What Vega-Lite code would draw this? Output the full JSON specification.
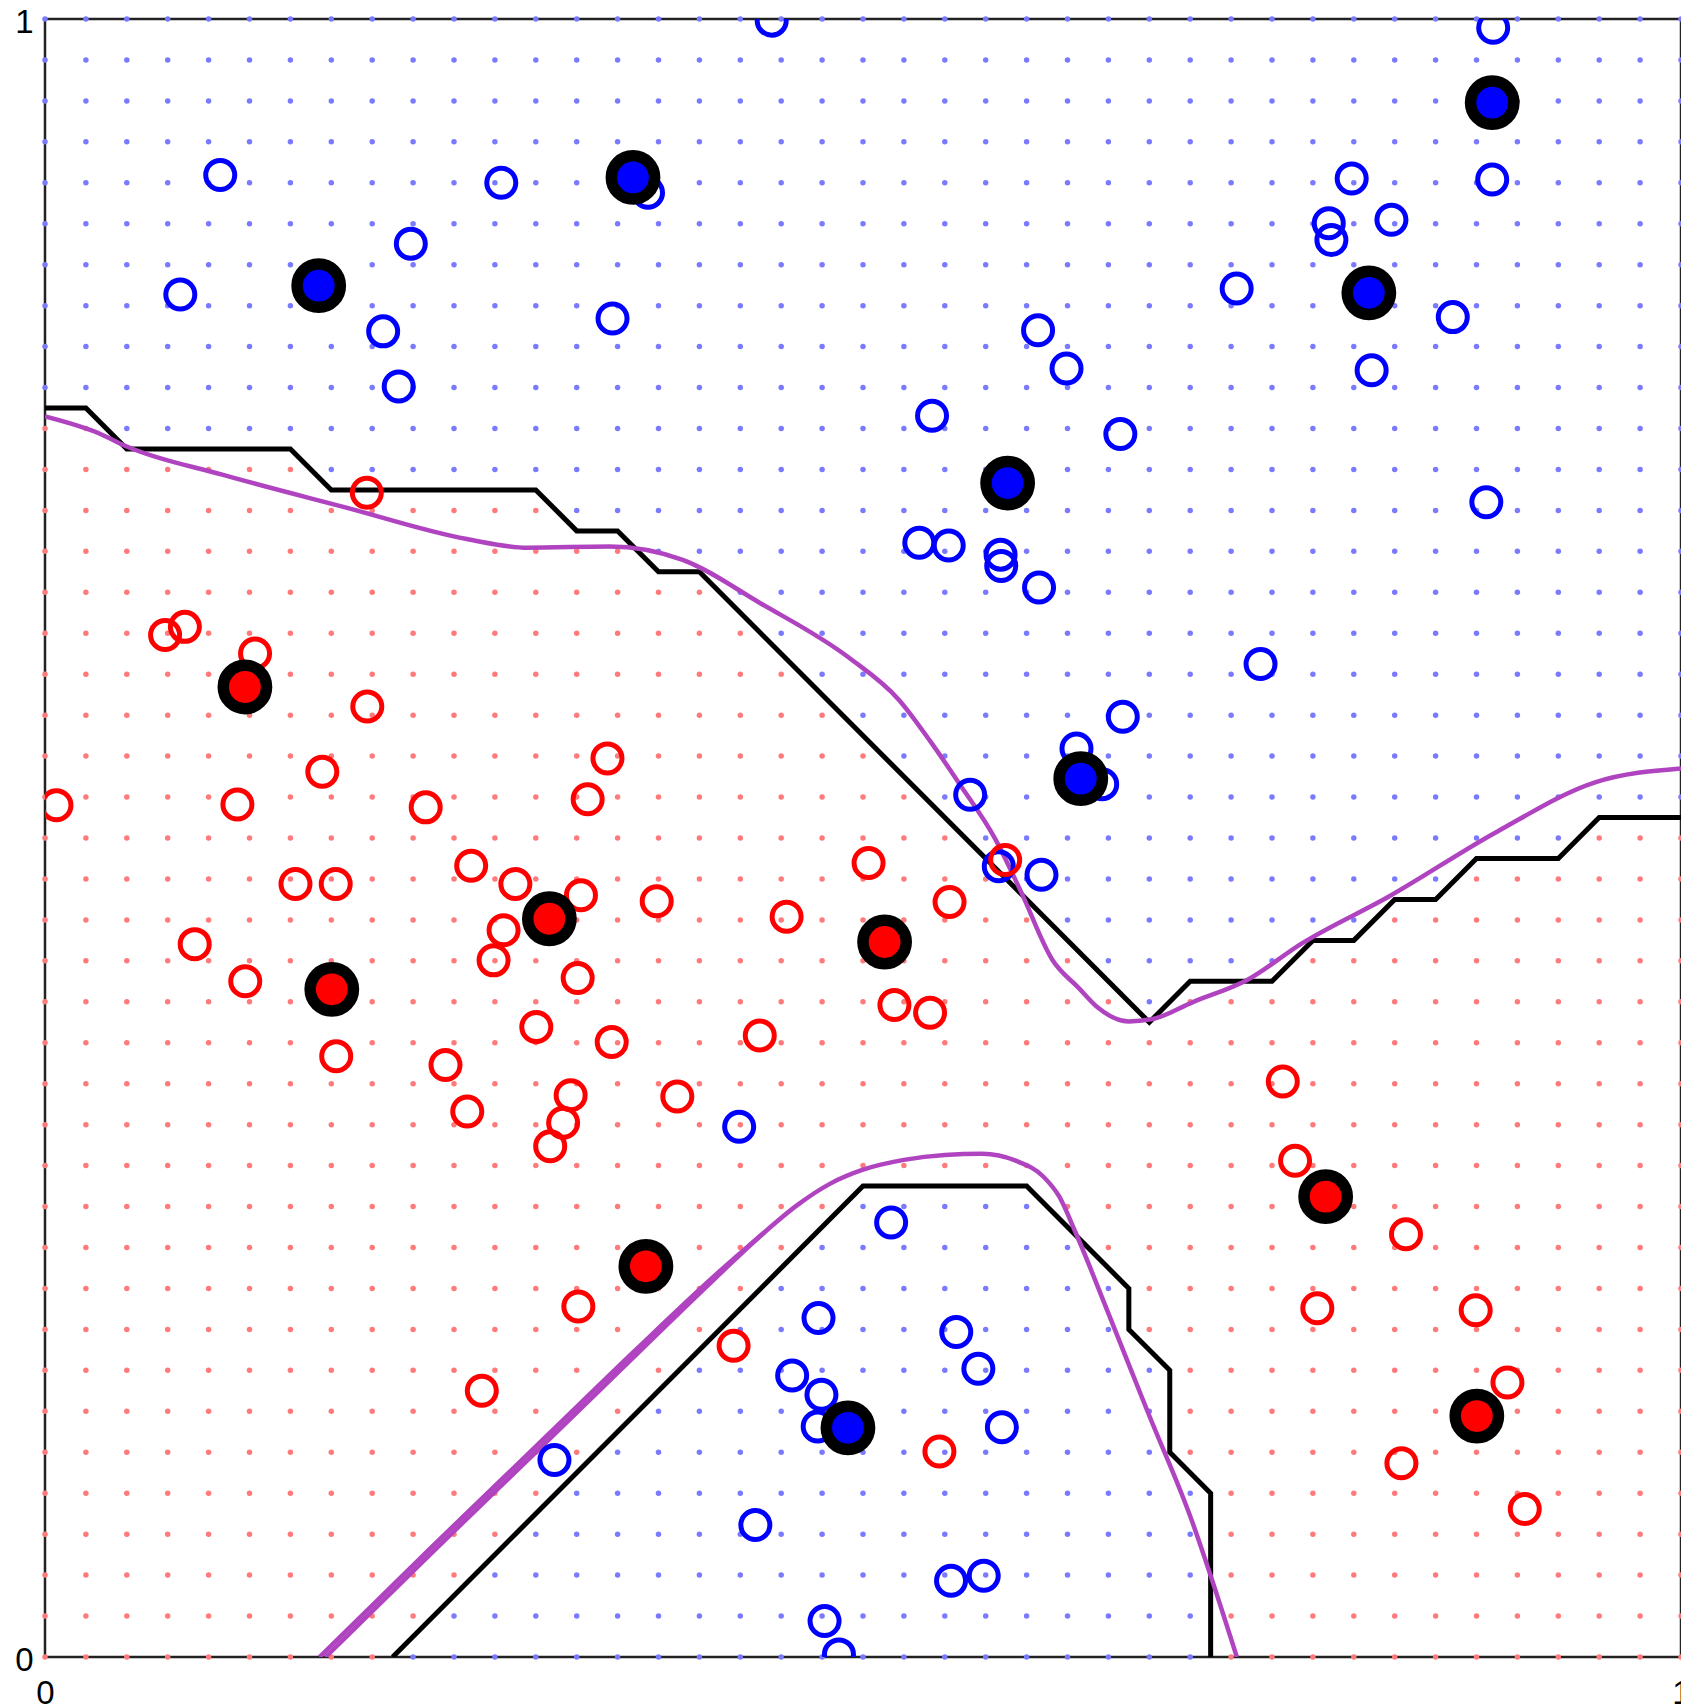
{
  "$schema": "https://vega.github.io/schema/vega-lite/v6.json",
  "width": 1636,
  "height": 1638,
  "autosize": {"type": "none"},
  "padding": {"left": 45, "top": 19, "right": 0, "bottom": 47},
  "background": "white",
  "config": {
    "view": {"stroke": "#222", "strokeWidth": 2.5},
    "axis": {
      "domain": false,
      "ticks": false,
      "grid": false,
      "labelFont": "Liberation Sans",
      "labelFontSize": 33,
      "labelColor": "#000"
    }
  },
  "datasets": {
    "grid": [
      {"i": [0, 1], "c": "r", "j": [0,1,2,3,4,5,6,7,8,9,10,11,12,13,14,15,16,17,18,19,20,21,22,23,24,25,26,27,28,29,30]},
      {"i": [0, 1], "c": "b", "j": [31,32,33,34,35,36,37,38,39,40]},
      {"i": [2, 3, 4, 5, 6], "c": "r", "j": [0,1,2,3,4,5,6,7,8,9,10,11,12,13,14,15,16,17,18,19,20,21,22,23,24,25,26,27,28,29]},
      {"i": [2, 3, 4, 5, 6], "c": "b", "j": [30,31,32,33,34,35,36,37,38,39,40]},
      {"i": [7, 8], "c": "r", "j": [0,1,2,3,4,5,6,7,8,9,10,11,12,13,14,15,16,17,18,19,20,21,22,23,24,25,26,27,28]},
      {"i": [7, 8], "c": "b", "j": [29,30,31,32,33,34,35,36,37,38,39,40]},
      {"i": [9], "c": "r", "j": [1,2,3,4,5,6,7,8,9,10,11,12,13,14,15,16,17,18,19,20,21,22,23,24,25,26,27,28]},
      {"i": [9], "c": "b", "j": [0,29,30,31,32,33,34,35,36,37,38,39,40]},
      {"i": [10], "c": "r", "j": [2,3,4,5,6,7,8,9,10,11,12,13,14,15,16,17,18,19,20,21,22,23,24,25,26,27,28]},
      {"i": [10], "c": "b", "j": [0,1,29,30,31,32,33,34,35,36,37,38,39,40]},
      {"i": [11], "c": "r", "j": [3,4,5,6,7,8,9,10,11,12,13,14,15,16,17,18,19,20,21,22,23,24,25,26,27,28]},
      {"i": [11], "c": "b", "j": [0,1,2,29,30,31,32,33,34,35,36,37,38,39,40]},
      {"i": [12], "c": "r", "j": [4,5,6,7,8,9,10,11,12,13,14,15,16,17,18,19,20,21,22,23,24,25,26,27,28]},
      {"i": [12], "c": "b", "j": [0,1,2,3,29,30,31,32,33,34,35,36,37,38,39,40]},
      {"i": [13], "c": "r", "j": [5,6,7,8,9,10,11,12,13,14,15,16,17,18,19,20,21,22,23,24,25,26,27]},
      {"i": [13], "c": "b", "j": [0,1,2,3,4,28,29,30,31,32,33,34,35,36,37,38,39,40]},
      {"i": [14], "c": "r", "j": [6,7,8,9,10,11,12,13,14,15,16,17,18,19,20,21,22,23,24,25,26,27]},
      {"i": [14], "c": "b", "j": [0,1,2,3,4,5,28,29,30,31,32,33,34,35,36,37,38,39,40]},
      {"i": [15], "c": "r", "j": [7,8,9,10,11,12,13,14,15,16,17,18,19,20,21,22,23,24,25,26]},
      {"i": [15], "c": "b", "j": [0,1,2,3,4,5,6,27,28,29,30,31,32,33,34,35,36,37,38,39,40]},
      {"i": [16], "c": "r", "j": [8,9,10,11,12,13,14,15,16,17,18,19,20,21,22,23,24,25,26]},
      {"i": [16], "c": "b", "j": [0,1,2,3,4,5,6,7,27,28,29,30,31,32,33,34,35,36,37,38,39,40]},
      {"i": [17], "c": "r", "j": [9,10,11,12,13,14,15,16,17,18,19,20,21,22,23,24,25]},
      {"i": [17], "c": "b", "j": [0,1,2,3,4,5,6,7,8,26,27,28,29,30,31,32,33,34,35,36,37,38,39,40]},
      {"i": [18], "c": "r", "j": [10,11,12,13,14,15,16,17,18,19,20,21,22,23,24]},
      {"i": [18], "c": "b", "j": [0,1,2,3,4,5,6,7,8,9,25,26,27,28,29,30,31,32,33,34,35,36,37,38,39,40]},
      {"i": [19], "c": "r", "j": [11,12,13,14,15,16,17,18,19,20,21,22,23]},
      {"i": [19], "c": "b", "j": [0,1,2,3,4,5,6,7,8,9,10,24,25,26,27,28,29,30,31,32,33,34,35,36,37,38,39,40]},
      {"i": [20], "c": "r", "j": [12,13,14,15,16,17,18,19,20,21,22]},
      {"i": [20], "c": "b", "j": [0,1,2,3,4,5,6,7,8,9,10,11,23,24,25,26,27,28,29,30,31,32,33,34,35,36,37,38,39,40]},
      {"i": [21], "c": "r", "j": [12,13,14,15,16,17,18,19,20,21]},
      {"i": [21], "c": "b", "j": [0,1,2,3,4,5,6,7,8,9,10,11,22,23,24,25,26,27,28,29,30,31,32,33,34,35,36,37,38,39,40]},
      {"i": [22], "c": "r", "j": [12,13,14,15,16,17,18,19,20]},
      {"i": [22], "c": "b", "j": [0,1,2,3,4,5,6,7,8,9,10,11,21,22,23,24,25,26,27,28,29,30,31,32,33,34,35,36,37,38,39,40]},
      {"i": [23], "c": "r", "j": [12,13,14,15,16,17,18,19]},
      {"i": [23], "c": "b", "j": [0,1,2,3,4,5,6,7,8,9,10,11,20,21,22,23,24,25,26,27,28,29,30,31,32,33,34,35,36,37,38,39,40]},
      {"i": [24], "c": "r", "j": [12,13,14,15,16,17,18]},
      {"i": [24], "c": "b", "j": [0,1,2,3,4,5,6,7,8,9,10,11,19,20,21,22,23,24,25,26,27,28,29,30,31,32,33,34,35,36,37,38,39,40]},
      {"i": [25], "c": "r", "j": [11,12,13,14,15,16,17]},
      {"i": [25], "c": "b", "j": [0,1,2,3,4,5,6,7,8,9,10,18,19,20,21,22,23,24,25,26,27,28,29,30,31,32,33,34,35,36,37,38,39,40]},
      {"i": [26], "c": "r", "j": [10,11,12,13,14,15,16]},
      {"i": [26], "c": "b", "j": [0,1,2,3,4,5,6,7,8,9,17,18,19,20,21,22,23,24,25,26,27,28,29,30,31,32,33,34,35,36,37,38,39,40]},
      {"i": [27], "c": "r", "j": [8,9,10,11,12,13,14,15]},
      {"i": [27], "c": "b", "j": [0,1,2,3,4,5,6,7,16,17,18,19,20,21,22,23,24,25,26,27,28,29,30,31,32,33,34,35,36,37,38,39,40]},
      {"i": [28], "c": "r", "j": [5,6,7,8,9,10,11,12,13,14,15,16]},
      {"i": [28], "c": "b", "j": [0,1,2,3,4,17,18,19,20,21,22,23,24,25,26,27,28,29,30,31,32,33,34,35,36,37,38,39,40]},
      {"i": [29, 30], "c": "r", "j": [0,1,2,3,4,5,6,7,8,9,10,11,12,13,14,15,16]},
      {"i": [29, 30], "c": "b", "j": [17,18,19,20,21,22,23,24,25,26,27,28,29,30,31,32,33,34,35,36,37,38,39,40]},
      {"i": [31, 32], "c": "r", "j": [0,1,2,3,4,5,6,7,8,9,10,11,12,13,14,15,16,17]},
      {"i": [31, 32], "c": "b", "j": [18,19,20,21,22,23,24,25,26,27,28,29,30,31,32,33,34,35,36,37,38,39,40]},
      {"i": [33, 34], "c": "r", "j": [0,1,2,3,4,5,6,7,8,9,10,11,12,13,14,15,16,17,18]},
      {"i": [33, 34], "c": "b", "j": [19,20,21,22,23,24,25,26,27,28,29,30,31,32,33,34,35,36,37,38,39,40]},
      {"i": [35, 36, 37], "c": "r", "j": [0,1,2,3,4,5,6,7,8,9,10,11,12,13,14,15,16,17,18,19]},
      {"i": [35, 36, 37], "c": "b", "j": [20,21,22,23,24,25,26,27,28,29,30,31,32,33,34,35,36,37,38,39,40]},
      {"i": [38, 39, 40], "c": "r", "j": [0,1,2,3,4,5,6,7,8,9,10,11,12,13,14,15,16,17,18,19,20]},
      {"i": [38, 39, 40], "c": "b", "j": [21,22,23,24,25,26,27,28,29,30,31,32,33,34,35,36,37,38,39,40]}
    ],
    "knn": [
      {"seg": "upper", "k": 0, "x": 0, "y": 0.7625},
      {"seg": "upper", "k": 1, "x": 0.025, "y": 0.7625},
      {"seg": "upper", "k": 2, "x": 0.05, "y": 0.7375},
      {"seg": "upper", "k": 3, "x": 0.15, "y": 0.7375},
      {"seg": "upper", "k": 4, "x": 0.175, "y": 0.7125},
      {"seg": "upper", "k": 5, "x": 0.3, "y": 0.7125},
      {"seg": "upper", "k": 6, "x": 0.325, "y": 0.6875},
      {"seg": "upper", "k": 7, "x": 0.35, "y": 0.6875},
      {"seg": "upper", "k": 8, "x": 0.375, "y": 0.6625},
      {"seg": "upper", "k": 9, "x": 0.4, "y": 0.6625},
      {"seg": "upper", "k": 10, "x": 0.675, "y": 0.3875},
      {"seg": "upper", "k": 11, "x": 0.7, "y": 0.4125},
      {"seg": "upper", "k": 12, "x": 0.75, "y": 0.4125},
      {"seg": "upper", "k": 13, "x": 0.775, "y": 0.4375},
      {"seg": "upper", "k": 14, "x": 0.8, "y": 0.4375},
      {"seg": "upper", "k": 15, "x": 0.825, "y": 0.4625},
      {"seg": "upper", "k": 16, "x": 0.85, "y": 0.4625},
      {"seg": "upper", "k": 17, "x": 0.875, "y": 0.4875},
      {"seg": "upper", "k": 18, "x": 0.925, "y": 0.4875},
      {"seg": "upper", "k": 19, "x": 0.95, "y": 0.5125},
      {"seg": "upper", "k": 20, "x": 1, "y": 0.5125},
      {"seg": "lower", "k": 0, "x": 0.2125, "y": 0},
      {"seg": "lower", "k": 1, "x": 0.5, "y": 0.2875},
      {"seg": "lower", "k": 2, "x": 0.6, "y": 0.2875},
      {"seg": "lower", "k": 3, "x": 0.6625, "y": 0.225},
      {"seg": "lower", "k": 4, "x": 0.6625, "y": 0.2},
      {"seg": "lower", "k": 5, "x": 0.6875, "y": 0.175},
      {"seg": "lower", "k": 6, "x": 0.6875, "y": 0.125},
      {"seg": "lower", "k": 7, "x": 0.7125, "y": 0.1},
      {"seg": "lower", "k": 8, "x": 0.7125, "y": 0}
    ],
    "bayes": [
      {"seg": "upper", "k": 0, "x": 0, "y": 0.7573},
      {"seg": "upper", "k": 1, "x": 0.0335, "y": 0.7468},
      {"seg": "upper", "k": 2, "x": 0.05, "y": 0.739},
      {"seg": "upper", "k": 3, "x": 0.1083, "y": 0.7218},
      {"seg": "upper", "k": 4, "x": 0.183, "y": 0.702},
      {"seg": "upper", "k": 5, "x": 0.2578, "y": 0.6825},
      {"seg": "upper", "k": 6, "x": 0.295, "y": 0.6772},
      {"seg": "upper", "k": 7, "x": 0.345, "y": 0.6780},
      {"seg": "upper", "k": 8, "x": 0.3898, "y": 0.6698},
      {"seg": "upper", "k": 9, "x": 0.437, "y": 0.6435},
      {"seg": "upper", "k": 10, "x": 0.4915, "y": 0.61},
      {"seg": "upper", "k": 11, "x": 0.522, "y": 0.5843},
      {"seg": "upper", "k": 12, "x": 0.5415, "y": 0.5585},
      {"seg": "upper", "k": 13, "x": 0.559, "y": 0.533},
      {"seg": "upper", "k": 14, "x": 0.5808, "y": 0.4995},
      {"seg": "upper", "k": 15, "x": 0.596, "y": 0.4685},
      {"seg": "upper", "k": 16, "x": 0.6158, "y": 0.4255},
      {"seg": "upper", "k": 17, "x": 0.6318, "y": 0.4085},
      {"seg": "upper", "k": 18, "x": 0.6435, "y": 0.3965},
      {"seg": "upper", "k": 19, "x": 0.6623, "y": 0.388},
      {"seg": "upper", "k": 20, "x": 0.6763, "y": 0.3893},
      {"seg": "upper", "k": 21, "x": 0.702, "y": 0.4},
      {"seg": "upper", "k": 22, "x": 0.7348, "y": 0.4133},
      {"seg": "upper", "k": 23, "x": 0.7685, "y": 0.4358},
      {"seg": "upper", "k": 24, "x": 0.8215, "y": 0.4643},
      {"seg": "upper", "k": 25, "x": 0.8878, "y": 0.504},
      {"seg": "upper", "k": 26, "x": 0.9475, "y": 0.534},
      {"seg": "upper", "k": 27, "x": 1, "y": 0.5425},
      {"seg": "lower", "k": 0, "x": 0.1715, "y": 0},
      {"seg": "lower", "k": 1, "x": 0.2378, "y": 0.0650},
      {"seg": "lower", "k": 2, "x": 0.3083, "y": 0.1330},
      {"seg": "lower", "k": 3, "x": 0.3633, "y": 0.1865},
      {"seg": "lower", "k": 4, "x": 0.4100, "y": 0.2315},
      {"seg": "lower", "k": 5, "x": 0.4400, "y": 0.2595},
      {"seg": "lower", "k": 6, "x": 0.4600, "y": 0.2760},
      {"seg": "lower", "k": 7, "x": 0.4800, "y": 0.2890},
      {"seg": "lower", "k": 8, "x": 0.5000, "y": 0.2975},
      {"seg": "lower", "k": 9, "x": 0.5250, "y": 0.3035},
      {"seg": "lower", "k": 10, "x": 0.5500, "y": 0.3065},
      {"seg": "lower", "k": 11, "x": 0.5728, "y": 0.3072},
      {"seg": "lower", "k": 12, "x": 0.5933, "y": 0.3030},
      {"seg": "lower", "k": 13, "x": 0.6100, "y": 0.2935},
      {"seg": "lower", "k": 14, "x": 0.6200, "y": 0.2810},
      {"seg": "lower", "k": 15, "x": 0.6300, "y": 0.2590},
      {"seg": "lower", "k": 16, "x": 0.6500, "y": 0.2098},
      {"seg": "lower", "k": 17, "x": 0.6745, "y": 0.1485},
      {"seg": "lower", "k": 18, "x": 0.6995, "y": 0.0873},
      {"seg": "lower", "k": 19, "x": 0.7285, "y": 0},
      {"seg": "lower2", "k": 0, "x": 0.1678, "y": 0},
      {"seg": "lower2", "k": 1, "x": 0.2360, "y": 0.0668},
      {"seg": "lower2", "k": 2, "x": 0.3065, "y": 0.1348},
      {"seg": "lower2", "k": 3, "x": 0.3617, "y": 0.1881},
      {"seg": "lower2", "k": 4, "x": 0.4090, "y": 0.2325},
      {"seg": "lower2", "k": 5, "x": 0.4400, "y": 0.2595}
    ],
    "train": [
      {"x": 0.1071, "y": 0.9048, "cls": "blue"},
      {"x": 0.2789, "y": 0.9000, "cls": "blue"},
      {"x": 0.3686, "y": 0.8939, "cls": "blue"},
      {"x": 0.2236, "y": 0.8628, "cls": "blue"},
      {"x": 0.0827, "y": 0.8318, "cls": "blue"},
      {"x": 0.2067, "y": 0.8093, "cls": "blue"},
      {"x": 0.3469, "y": 0.8172, "cls": "blue"},
      {"x": 0.2162, "y": 0.7756, "cls": "blue"},
      {"x": 0.4442, "y": 0.9990, "cls": "blue"},
      {"x": 0.8852, "y": 0.9946, "cls": "blue"},
      {"x": 0.8846, "y": 0.9020, "cls": "blue"},
      {"x": 0.7987, "y": 0.9026, "cls": "blue"},
      {"x": 0.7847, "y": 0.8753, "cls": "blue"},
      {"x": 0.7863, "y": 0.8651, "cls": "blue"},
      {"x": 0.8230, "y": 0.8775, "cls": "blue"},
      {"x": 0.7284, "y": 0.8355, "cls": "blue"},
      {"x": 0.8605, "y": 0.8180, "cls": "blue"},
      {"x": 0.8109, "y": 0.7855, "cls": "blue"},
      {"x": 0.6573, "y": 0.7467, "cls": "blue"},
      {"x": 0.8810, "y": 0.7050, "cls": "blue"},
      {"x": 0.6070, "y": 0.8100, "cls": "blue"},
      {"x": 0.6244, "y": 0.7866, "cls": "blue"},
      {"x": 0.5422, "y": 0.7578, "cls": "blue"},
      {"x": 0.5344, "y": 0.6802, "cls": "blue"},
      {"x": 0.5524, "y": 0.6786, "cls": "blue"},
      {"x": 0.5841, "y": 0.6730, "cls": "blue"},
      {"x": 0.5845, "y": 0.6660, "cls": "blue"},
      {"x": 0.6076, "y": 0.6529, "cls": "blue"},
      {"x": 0.7430, "y": 0.6062, "cls": "blue"},
      {"x": 0.6588, "y": 0.5740, "cls": "blue"},
      {"x": 0.6305, "y": 0.5547, "cls": "blue"},
      {"x": 0.6462, "y": 0.5328, "cls": "blue"},
      {"x": 0.5655, "y": 0.5264, "cls": "blue"},
      {"x": 0.5830, "y": 0.4828, "cls": "blue"},
      {"x": 0.6091, "y": 0.4776, "cls": "blue"},
      {"x": 0.5172, "y": 0.2653, "cls": "blue"},
      {"x": 0.4728, "y": 0.2070, "cls": "blue"},
      {"x": 0.5570, "y": 0.1984, "cls": "blue"},
      {"x": 0.4567, "y": 0.1719, "cls": "blue"},
      {"x": 0.4746, "y": 0.1601, "cls": "blue"},
      {"x": 0.4723, "y": 0.1407, "cls": "blue"},
      {"x": 0.5705, "y": 0.1760, "cls": "blue"},
      {"x": 0.5849, "y": 0.1403, "cls": "blue"},
      {"x": 0.4342, "y": 0.0806, "cls": "blue"},
      {"x": 0.5538, "y": 0.0465, "cls": "blue"},
      {"x": 0.5738, "y": 0.0496, "cls": "blue"},
      {"x": 0.4765, "y": 0.0220, "cls": "blue"},
      {"x": 0.4853, "y": 0.0016, "cls": "blue"},
      {"x": 0.3114, "y": 0.1203, "cls": "blue"},
      {"x": 0.4243, "y": 0.3237, "cls": "blue"},
      {"x": 0.0734, "y": 0.6239, "cls": "red"},
      {"x": 0.0855, "y": 0.6289, "cls": "red"},
      {"x": 0.1284, "y": 0.6126, "cls": "red"},
      {"x": 0.1970, "y": 0.5803, "cls": "red"},
      {"x": 0.1695, "y": 0.5404, "cls": "red"},
      {"x": 0.3438, "y": 0.5486, "cls": "red"},
      {"x": 0.1176, "y": 0.5204, "cls": "red"},
      {"x": 0.2327, "y": 0.5187, "cls": "red"},
      {"x": 0.3317, "y": 0.5237, "cls": "red"},
      {"x": 0.2605, "y": 0.4831, "cls": "red"},
      {"x": 0.1531, "y": 0.4719, "cls": "red"},
      {"x": 0.1777, "y": 0.4719, "cls": "red"},
      {"x": 0.2875, "y": 0.4719, "cls": "red"},
      {"x": 0.3276, "y": 0.4651, "cls": "red"},
      {"x": 0.3739, "y": 0.4614, "cls": "red"},
      {"x": 0.2803, "y": 0.4437, "cls": "red"},
      {"x": 0.0915, "y": 0.4352, "cls": "red"},
      {"x": 0.2742, "y": 0.4253, "cls": "red"},
      {"x": 0.1224, "y": 0.4125, "cls": "red"},
      {"x": 0.3256, "y": 0.4145, "cls": "red"},
      {"x": 0.3003, "y": 0.3846, "cls": "red"},
      {"x": 0.3464, "y": 0.3754, "cls": "red"},
      {"x": 0.1780, "y": 0.3667, "cls": "red"},
      {"x": 0.2448, "y": 0.3614, "cls": "red"},
      {"x": 0.3213, "y": 0.3430, "cls": "red"},
      {"x": 0.3865, "y": 0.3422, "cls": "red"},
      {"x": 0.2581, "y": 0.3330, "cls": "red"},
      {"x": 0.3167, "y": 0.3261, "cls": "red"},
      {"x": 0.3088, "y": 0.3118, "cls": "red"},
      {"x": 0.1967, "y": 0.7108, "cls": "red"},
      {"x": 0.0070, "y": 0.5200, "cls": "red"},
      {"x": 0.5034, "y": 0.4848, "cls": "red"},
      {"x": 0.5529, "y": 0.4609, "cls": "red"},
      {"x": 0.4533, "y": 0.4519, "cls": "red"},
      {"x": 0.5869, "y": 0.4866, "cls": "red"},
      {"x": 0.5192, "y": 0.3980, "cls": "red"},
      {"x": 0.5410, "y": 0.3933, "cls": "red"},
      {"x": 0.4369, "y": 0.3794, "cls": "red"},
      {"x": 0.3260, "y": 0.2140, "cls": "red"},
      {"x": 0.2670, "y": 0.1625, "cls": "red"},
      {"x": 0.4209, "y": 0.1900, "cls": "red"},
      {"x": 0.5467, "y": 0.1255, "cls": "red"},
      {"x": 0.7566, "y": 0.3513, "cls": "red"},
      {"x": 0.7641, "y": 0.3030, "cls": "red"},
      {"x": 0.8319, "y": 0.2581, "cls": "red"},
      {"x": 0.7777, "y": 0.2129, "cls": "red"},
      {"x": 0.8745, "y": 0.2117, "cls": "red"},
      {"x": 0.8939, "y": 0.1676, "cls": "red"},
      {"x": 0.8291, "y": 0.1183, "cls": "red"},
      {"x": 0.9045, "y": 0.0903, "cls": "red"}
    ],
    "prototypes": [
      {"x": 0.3594, "y": 0.9033, "cls": "blue"},
      {"x": 0.1673, "y": 0.8372, "cls": "blue"},
      {"x": 0.8846, "y": 0.9489, "cls": "blue"},
      {"x": 0.8092, "y": 0.8328, "cls": "blue"},
      {"x": 0.5884, "y": 0.7167, "cls": "blue"},
      {"x": 0.6331, "y": 0.5362, "cls": "blue"},
      {"x": 0.4908, "y": 0.1399, "cls": "blue"},
      {"x": 0.1222, "y": 0.5922, "cls": "red"},
      {"x": 0.3083, "y": 0.4507, "cls": "red"},
      {"x": 0.1753, "y": 0.4076, "cls": "red"},
      {"x": 0.5132, "y": 0.4365, "cls": "red"},
      {"x": 0.3673, "y": 0.2385, "cls": "red"},
      {"x": 0.7828, "y": 0.2810, "cls": "red"},
      {"x": 0.8752, "y": 0.1471, "cls": "red"}
    ]
  },
  "layer": [
    {
      "data": {"name": "grid"},
      "transform": [{"flatten": ["i"]}, {"flatten": ["j"]}],
      "mark": {"type": "point", "filled": true, "size": 30, "opacity": 1},
      "encoding": {
        "x": {"field": "i", "type": "quantitative", "scale": {"domain": [0, 40], "nice": false, "zero": false}, "axis": null},
        "y": {"field": "j", "type": "quantitative", "scale": {"domain": [0, 40], "nice": false, "zero": false}, "axis": null},
        "color": {"field": "c", "type": "nominal", "scale": {"domain": ["b", "r"], "range": ["#7a7aff", "#ff7a7a"]}, "legend": null}
      }
    },
    {
      "data": {"name": "knn"},
      "mark": {"type": "line", "color": "#000", "strokeWidth": 5, "clip": true},
      "encoding": {
        "x": {"field": "x", "type": "quantitative", "scale": {"domain": [0, 1], "nice": false, "zero": false}, "axis": null},
        "y": {"field": "y", "type": "quantitative", "scale": {"domain": [0, 1], "nice": false, "zero": false}, "axis": null},
        "detail": {"field": "seg", "type": "nominal"},
        "order": {"field": "k", "type": "quantitative"}
      }
    },
    {
      "data": {"name": "bayes"},
      "mark": {"type": "line", "color": "#b044c0", "strokeWidth": 4.5, "interpolate": "monotone", "clip": true},
      "encoding": {
        "x": {"field": "x", "type": "quantitative", "scale": {"domain": [0, 1], "nice": false, "zero": false}, "axis": null},
        "y": {"field": "y", "type": "quantitative", "scale": {"domain": [0, 1], "nice": false, "zero": false}, "axis": null},
        "detail": {"field": "seg", "type": "nominal"},
        "order": {"field": "k", "type": "quantitative"}
      }
    },
    {
      "data": {"name": "train"},
      "mark": {"type": "point", "filled": false, "size": 841, "strokeWidth": 5, "opacity": 1, "clip": true},
      "encoding": {
        "x": {"field": "x", "type": "quantitative", "scale": {"domain": [0, 1], "nice": false, "zero": false},
              "axis": {"values": [0, 1], "format": "d", "title": null, "labelFlush": false, "labelPadding": 20}},
        "y": {"field": "y", "type": "quantitative", "scale": {"domain": [0, 1], "nice": false, "zero": false},
              "axis": {"values": [0, 1], "format": "d", "title": null, "labelPadding": 12, "labelOffset": 3}},
        "color": {"field": "cls", "type": "nominal", "scale": {"domain": ["blue", "red"], "range": ["#0000ff", "#ff0000"]}, "legend": null}
      }
    },
    {
      "data": {"name": "prototypes"},
      "mark": {"type": "point", "filled": true, "size": 1875, "stroke": "#000", "strokeWidth": 11.5, "opacity": 1, "clip": true},
      "encoding": {
        "x": {"field": "x", "type": "quantitative", "scale": {"domain": [0, 1], "nice": false, "zero": false}, "axis": null},
        "y": {"field": "y", "type": "quantitative", "scale": {"domain": [0, 1], "nice": false, "zero": false}, "axis": null},
        "fill": {"field": "cls", "type": "nominal", "scale": {"domain": ["blue", "red"], "range": ["#0000ff", "#ff0000"]}, "legend": null}
      }
    }
  ],
  "resolve": {"scale": {"x": "independent", "y": "independent", "color": "independent", "fill": "independent"}}
}
